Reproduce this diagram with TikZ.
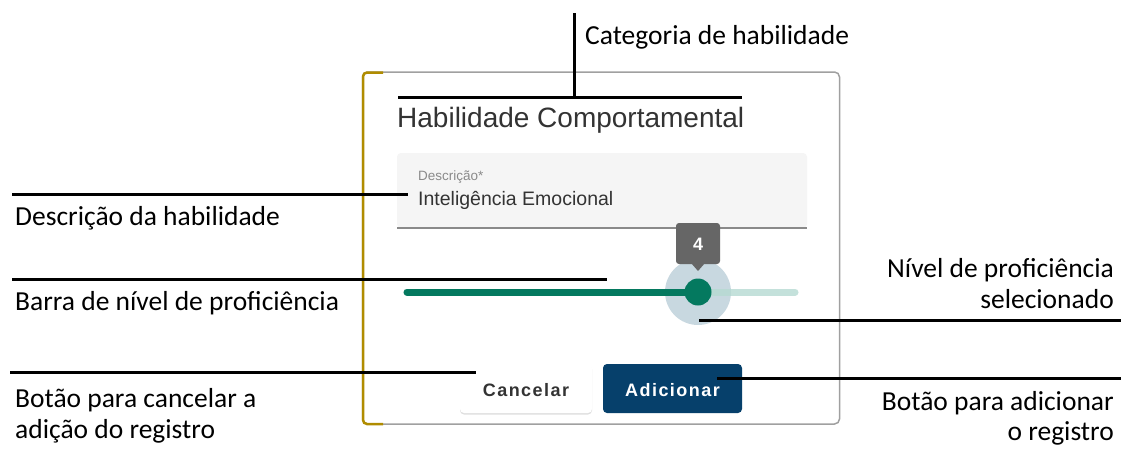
\documentclass[tikz,border=0pt]{standalone}
\usepackage{fontspec}
\setmainfont{Carlito}
\newfontfamily\uifont{Liberation Sans}
\newfontfamily\btnfont[LetterSpace=8]{Liberation Sans}
\usetikzlibrary{shadows}
\definecolor{gold}{RGB}{176,140,0}
\definecolor{dlgborder}{RGB}{160,160,160}
\definecolor{titlegray}{RGB}{51,51,51}
\definecolor{fieldbg}{RGB}{245,245,245}
\definecolor{fieldline}{RGB}{138,138,138}
\definecolor{hintgray}{RGB}{138,138,138}
\definecolor{active}{RGB}{4,121,95}
\definecolor{inactive}{RGB}{182,218,210}
\definecolor{halo}{RGB}{200,216,224}
\definecolor{tipgray}{RGB}{102,102,102}
\definecolor{addblue}{RGB}{6,64,107}
\tikzset{
  lbl/.style={inner sep=0pt, font=\fontsize{27.5}{31}\selectfont, text=black},
  conn/.style={draw=black, line width=3pt},
  box/.style={inner sep=0pt, outer sep=0pt},
}
\begin{document}
\begin{tikzpicture}[x=1pt,y=-1pt]
\useasboundingbox (0,0) rectangle (1121,448);
% dialog
\node[box, draw=dlgborder, line width=1.5pt, fill=white, rounded corners=5pt,
  minimum width=477pt, minimum height=352pt] (dlg) at (601,248) {};
\draw[gold, line width=2.5pt, rounded corners=4pt] (383,72.5) -- (363,72.5) -- (363,424) -- (383,424);
% title
\node[inner sep=0pt, anchor=base west, font=\uifont\fontsize{28}{32}\selectfont, text=titlegray] (title) at (397,127) {Habilidade Comportamental};
% input field
\path[fill=fieldbg, rounded corners=4pt] (397,228) -- (397,153) -- (807,153) -- (807,228) -- cycle;
\node[box, minimum width=410pt, minimum height=75pt] (field) at (602,190.5) {};
\draw[fieldline, line width=1.2pt] (field.south west) -- (field.south east);
\node[inner sep=0pt, anchor=base west, font=\uifont\fontsize{13.5}{16}\selectfont, text=hintgray] (hint) at (418,180) {Descrição*};
\node[inner sep=0pt, anchor=base west, font=\uifont\fontsize{19.5}{22}\selectfont, text=titlegray] (value) at (418,205) {Inteligência Emocional};
% slider
\node[circle, fill=halo, minimum size=66pt, inner sep=0pt] (halo) at (698,292) {};
\coordinate (trackL) at (407,292);
\coordinate (trackR) at (795,292);
\draw[inactive, line width=7pt, line cap=round, opacity=0.8] (trackL) -- (trackR);
\draw[active, line width=7pt, line cap=round] (trackL) -- (halo.center);
\node[circle, fill=active, minimum size=27pt, inner sep=0pt] (thumb) at (698,292) {};
% tooltip
\node[box, fill=tipgray, rounded corners=3pt, minimum width=44pt, minimum height=41pt] (tip) at (698,243.5) {};
\fill[tipgray] (691,263) -- (698,271) -- (705,263) -- cycle;
\node[inner sep=0pt, anchor=base, font=\uifont\bfseries\fontsize{18}{20}\selectfont, text=white] (tipval) at (698,250) {4};
% buttons
\node[box, fill=white, rounded corners=4pt, minimum width=132pt, minimum height=49pt,
  drop shadow={opacity=0.25, shadow xshift=0pt, shadow yshift=-1.5pt}] (cancel) at (526,388.5) {};
\node[inner sep=0pt, anchor=base, font=\btnfont\bfseries\fontsize{18}{20}\selectfont, text=titlegray] (canceltxt) at (526,396) {Cancelar};
\node[box, fill=addblue, rounded corners=4pt, minimum width=139pt, minimum height=49pt] (add) at (672.5,388.5) {};
\node[inner sep=0pt, anchor=base, font=\btnfont\bfseries\fontsize{18}{20}\selectfont, text=white] (addtxt) at (672.5,396) {Adicionar};
% labels
\node[lbl, anchor=base west] (lcat) at (585,44) {Categoria de habilidade};
\node[lbl, anchor=base west] (ldesc) at (15,225) {Descrição da habilidade};
\node[lbl, anchor=base west] (lbar) at (15,310) {Barra de nível de proficiência};
\node[lbl, anchor=base west] (lcan1) at (15,407) {Botão para cancelar a};
\node[lbl, anchor=base west] (lcan2) at (15,438) {adição do registro};
\node[lbl, anchor=base east] (lniv1) at (1114,277) {Nível de proficiência};
\node[lbl, anchor=base east] (lniv2) at (1114,308) {selecionado};
\node[lbl, anchor=base east] (ladd1) at (1114,410) {Botão para adicionar};
\node[lbl, anchor=base east] (ladd2) at (1114,440) {o registro};
% connectors
\coordinate (catTop) at (574,13);
\coordinate (catMid) at (574,97);
\coordinate (catL) at (398,97);
\coordinate (catR) at (742,97);
\draw[conn] (catTop) -- (catMid);
\draw[conn] (catL) -- (catR);
\coordinate (descL) at (12,194);
\coordinate (descR) at (408,194);
\draw[conn] (descL) -- (descR);
\coordinate (barL) at (12,279);
\coordinate (barR) at (607,279);
\draw[conn] (barL) -- (barR);
\coordinate (canL) at (10,372);
\coordinate (canR) at (476,372);
\draw[conn] (canL) -- (canR);
\coordinate (nivL) at (699,320);
\coordinate (nivR) at (1121,320);
\draw[conn] (nivL) -- (nivR);
\coordinate (addL) at (717,378);
\coordinate (addR) at (1121,378);
\draw[conn] (addL) -- (addR);
\end{tikzpicture}
\end{document}
